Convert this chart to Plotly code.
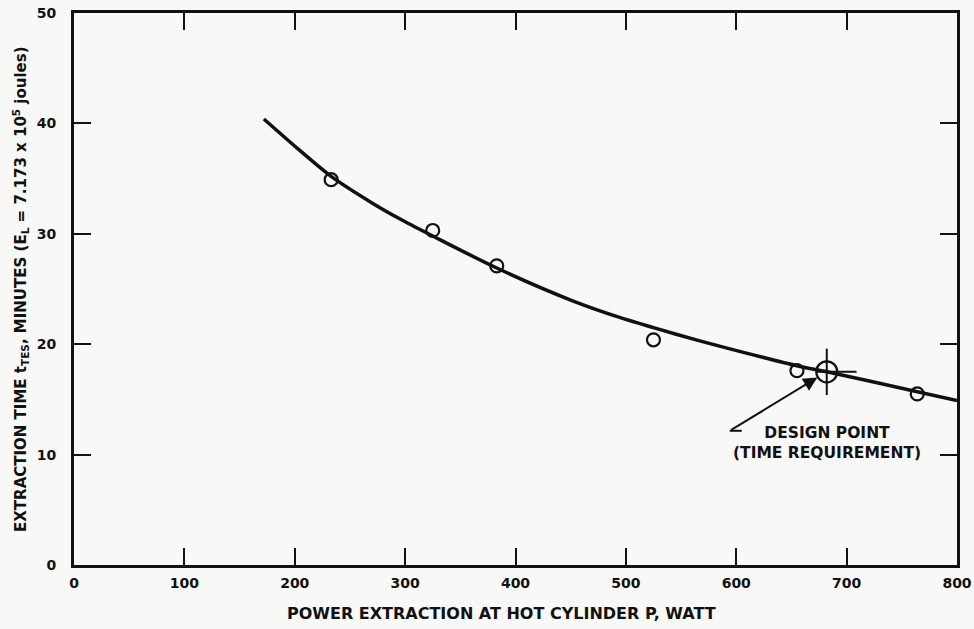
import plotly.graph_objects as go

# Smooth fitted curve
curve_p = [172, 204, 233, 270, 298, 325, 383, 450, 495, 525, 567, 603, 655, 682, 764, 800]
curve_t = [40.4, 37.6, 35.2, 32.8, 31.2, 29.8, 26.9, 24.0, 22.4, 21.5, 20.3, 19.35, 18.05, 17.5, 15.7, 14.9]

# Measured points
meas_p = [233, 325, 383, 525, 655, 764]
meas_t = [34.9, 30.3, 27.1, 20.4, 17.6, 15.5]

# Design point
design_p = [682]
design_t = [17.5]

x_ticks = [0, 100, 200, 300, 400, 500, 600, 700, 800]
y_ticks = [0, 10, 20, 30, 40, 50]

INK = "#111111"
BG = "#f8f8f6"
FONT = "DejaVu Sans"

fig = go.Figure()

fig.add_trace(go.Scatter(
    x=curve_p, y=curve_t, mode="lines",
    line=dict(color=INK, width=3.5, shape="spline", smoothing=0.8),
    hoverinfo="skip", showlegend=False,
))

fig.add_trace(go.Scatter(
    x=meas_p, y=meas_t, mode="markers",
    marker=dict(symbol="circle-open", size=13, color=INK, line=dict(width=2.2, color=INK)),
    showlegend=False,
))

fig.add_trace(go.Scatter(
    x=design_p, y=design_t, mode="markers",
    marker=dict(symbol="circle-open", size=21, color=INK, line=dict(width=2.2, color=INK)),
    error_x=dict(type="constant", symmetric=False, value=27, valueminus=9,
                 width=0, thickness=2, color=INK),
    error_y=dict(type="constant", value=2.1, width=0, thickness=2, color=INK),
    showlegend=False,
))

fig.update_layout(
    width=974, height=629,
    margin=dict(l=74, r=17, t=13, b=64),
    paper_bgcolor=BG, plot_bgcolor=BG,
    font=dict(family=FONT, color=INK),
    showlegend=False,
    xaxis=dict(
        range=[0, 800], tickvals=x_ticks, ticktext=[str(v) for v in x_ticks],
        ticks="inside", ticklen=17, tickwidth=2, tickcolor=INK,
        showline=True, linewidth=3, linecolor=INK, mirror="ticks",
        showgrid=False, zeroline=False, ticklabelstandoff=3, automargin=False,
        tickfont=dict(family=FONT, size=14, color=INK, weight="bold"),
    ),
    yaxis=dict(
        range=[0, 50], tickvals=y_ticks, ticktext=[str(v) for v in y_ticks],
        ticks="inside", ticklen=17, tickwidth=2, tickcolor=INK,
        showline=True, linewidth=3, linecolor=INK, mirror="ticks",
        showgrid=False, zeroline=False, ticklabelstandoff=12, automargin=False,
        tickfont=dict(family=FONT, size=14, color=INK, weight="bold"),
    ),
    annotations=[
        dict(text="POWER EXTRACTION AT HOT CYLINDER P, WATT",
             xref="paper", yref="paper", x=0.4836, y=-0.087,
             xanchor="center", yanchor="middle", showarrow=False,
             font=dict(family=FONT, size=16, color=INK, weight="bold")),
        dict(text="EXTRACTION TIME t<sub>TES</sub>, MINUTES (E<sub>L</sub> = 7.173 x 10<sup>5</sup> joules)",
             xref="paper", yref="paper", x=-0.0612, y=0.5,
             xanchor="center", yanchor="middle", textangle=-90, showarrow=False,
             font=dict(family=FONT, size=15, color=INK, weight="bold")),
        dict(text="", x=design_p[0], y=design_t[0], xref="x", yref="y",
             showarrow=True, ax=-97, ay=59, standoff=11,
             arrowhead=2, arrowsize=1.4, arrowwidth=2, arrowcolor=INK),
        dict(text="DESIGN POINT<br>(TIME REQUIREMENT)", x=design_p[0], y=design_t[0],
             xref="x", yref="y", showarrow=False, yshift=-71, xshift=0,
             xanchor="center", yanchor="middle", align="center",
             font=dict(family=FONT, size=15.5, color=INK, weight="bold")),
    ],
    shapes=[
        dict(type="line", xref="x", yref="y", xsizemode="pixel", ysizemode="pixel",
             xanchor=design_p[0], yanchor=design_t[0],
             x0=-97, x1=-85, y0=-59, y1=-59,
             line=dict(color=INK, width=2)),
    ],
)

fig.write_html(
    "out.html",
    config={"displayModeBar": False},
    post_script="document.body.style.margin='0px';document.body.style.background='%s';" % BG,
)
